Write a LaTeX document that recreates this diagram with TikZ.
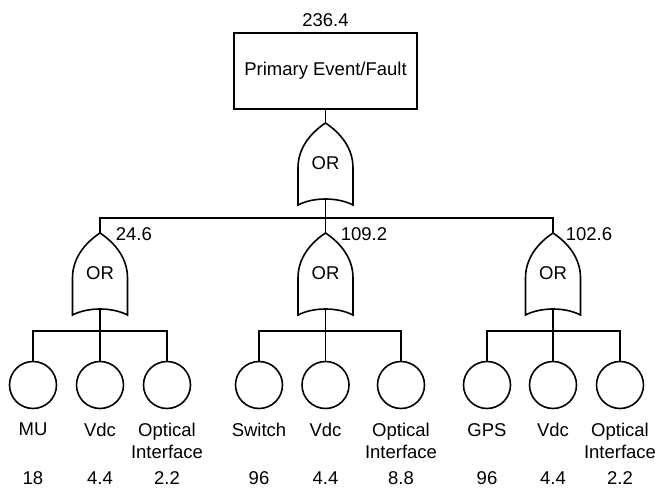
\documentclass[tikz,border=0pt]{standalone}
\usepackage{fontspec}
\setmainfont{Liberation Sans}
\usetikzlibrary{positioning}

\begin{document}
\begin{tikzpicture}[x=1pt, y=-1pt, line width=1.6pt,
    every node/.style={font=\fontsize{18.5}{21.5}\selectfont},
    event/.style={draw, circle, minimum size=47pt, inner sep=0pt},
    lbl/.style={align=center, inner sep=0pt},
    val/.style={anchor=west, inner sep=0pt},
    pics/orgate/.style={code={
        \draw (0,0) .. controls (-15,10) and (-27.5,25) .. (-27.5,45) -- (-27.5,82)
            .. controls (-12,74) and (12,74) .. (27.5,82) -- (27.5,45)
            .. controls (27.5,25) and (15,10) .. (0,0) -- cycle;
        \coordinate (-top) at (0,0);
        \coordinate (-bot) at (0,76);
        \node (-txt) at (0,40) {OR};
    }}]
    \useasboundingbox (0,0) rectangle (655,489);

    % Top event
    \node [draw, minimum width=183pt, minimum height=76pt] (fault) at (325.5,71) {Primary Event/Fault};
    \node (faultval) at (325.5,20) {236.4};
    \pic (g0) at (325.5,123) {orgate};
    \draw (fault.south) -- (g0-top);

    % Second level gates
    \pic (g1) at (100,233) {orgate};
    \pic (g2) at (325.5,233) {orgate};
    \pic (g3) at (553,233) {orgate};
    \node [val] (g1val) at (115,234) {24.6};
    \node [val] (g2val) at (340,234) {109.2};
    \node [val] (g3val) at (565,234) {102.6};

    \coordinate (bus0) at (325.5,218);
    \draw (g0-bot) -- (bus0);
    \draw (g1-top) |- (bus0) -| (g3-top);
    \draw (bus0) -- (g2-top);

    % MU branch
    \node [event] (mu) at (33,385) {};
    \node [event] (vdca) at (100,385) {};
    \node [event] (opta) at (167,385) {};
    \coordinate (bus1) at (100,331);
    \draw (g1-bot) -- (bus1);
    \draw (mu.north) |- (bus1) -| (opta.north);
    \draw (bus1) -- (vdca.north);
    \node [lbl, below=13pt of mu] (mulbl) {MU};
    \node [lbl, below=13pt of vdca] (vdcalbl) {Vdc};
    \node [lbl, below=13pt of opta] (optalbl) {Optical\\Interface};
    \node (muval) at (33,478) {18};
    \node (vdcaval) at (100,478) {4.4};
    \node (optaval) at (167,478) {2.2};

    % Switch branch
    \node [event] (sw) at (259,385) {};
    \node [event] (vdcb) at (325.5,385) {};
    \node [event] (optb) at (401,385) {};
    \coordinate (bus2) at (325.5,331);
    \draw (g2-bot) -- (bus2);
    \draw (sw.north) |- (bus2) -| (optb.north);
    \draw (bus2) -- (vdcb.north);
    \node [lbl, below=13pt of sw] (swlbl) {Switch};
    \node [lbl, below=13pt of vdcb] (vdcblbl) {Vdc};
    \node [lbl, below=13pt of optb] (optblbl) {Optical\\Interface};
    \node (swval) at (259,478) {96};
    \node (vdcbval) at (325.5,478) {4.4};
    \node (optbval) at (401,478) {8.8};

    % GPS branch
    \node [event] (gps) at (487,385) {};
    \node [event] (vdcc) at (553,385) {};
    \node [event] (optc) at (620,385) {};
    \coordinate (bus3) at (553,331);
    \draw (g3-bot) -- (bus3);
    \draw (gps.north) |- (bus3) -| (optc.north);
    \draw (bus3) -- (vdcc.north);
    \node [lbl, below=13pt of gps] (gpslbl) {GPS};
    \node [lbl, below=13pt of vdcc] (vdcclbl) {Vdc};
    \node [lbl, below=13pt of optc] (optclbl) {Optical\\Interface};
    \node (gpsval) at (487,478) {96};
    \node (vdccval) at (553,478) {4.4};
    \node (optcval) at (620,478) {2.2};
\end{tikzpicture}
\end{document}
